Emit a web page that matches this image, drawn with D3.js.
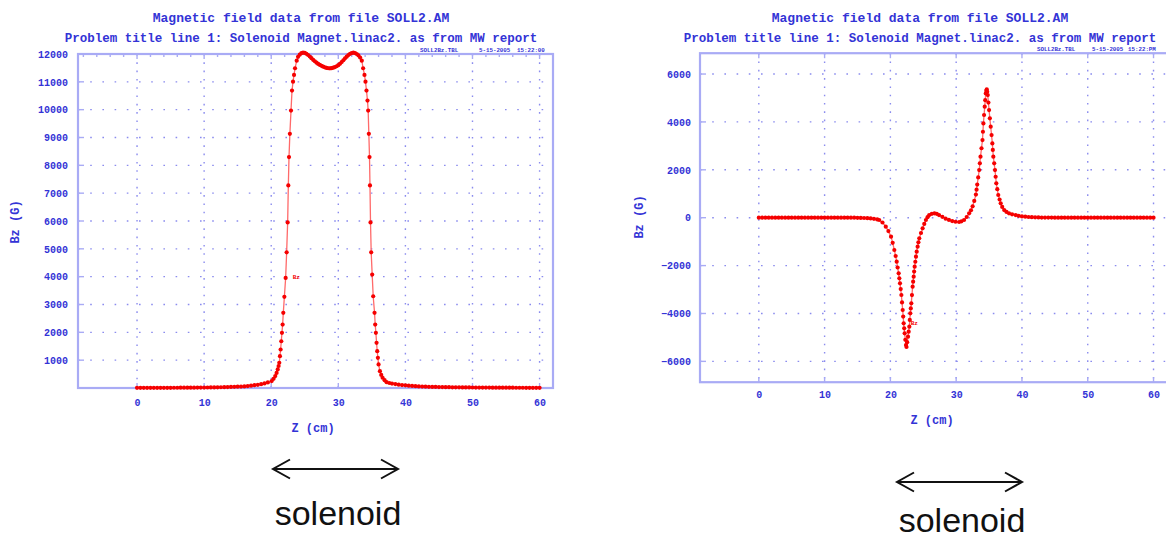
<!DOCTYPE html>
<html>
<head>
<meta charset="utf-8">
<script src="https://cdn.jsdelivr.net/npm/d3@7"></script>
<style>
  body { margin: 0; background: #fff; }
  svg text { font-family: "Liberation Mono", "DejaVu Sans Mono", monospace; font-weight: bold; }
  svg text.plain { font-family: "Liberation Sans", Arial, sans-serif; font-weight: normal; }
</style>
</head>
<body>
<div id="chart"></div>
<script>
// tick values
var xTicks = [0, 10, 20, 30, 40, 50, 60];
var leftYTicks = [1000, 2000, 3000, 4000, 5000, 6000, 7000, 8000, 9000, 10000, 11000, 12000];
var rightYTicks = [-6000, -4000, -2000, 0, 2000, 4000, 6000];

// texts
var titleLines = ['Magnetic field data from file SOLL2.AM',
                  'Problem title line 1: Solenoid Magnet.linac2. as from MW report'];
var leftStamp = ['SOLL2Bz.TBL', '5-15-2005', '15:22:00'];
var rightStamp = ['SOLL2Bz.TBL', '5-15-2005', '15:22:PM'];
var xLabel = 'Z  (cm)';
var yLabel = 'Bz  (G)';
var curveLabel = 'Bz';
var solenoidLabel = 'solenoid';

// [z (cm), Bz (G)]
var leftField = [
  [0,5],[0.5,5],[1,5],[1.5,6],[2,6],[2.5,6],[3,7],[3.5,7],[4,7],[4.5,8],
  [5,8],[5.5,9],[6,9],[6.5,10],[7,10],[7.5,11],[8,12],[8.5,13],[9,14],[9.5,15],
  [10,16],[10.5,18],[11,20],[11.5,22],[12,24],[12.5,27],[13,30],[13.5,33],[14,37],[14.5,41],
  [15,47],[15.5,52],[16,58],[16.5,70],[17,84],[17.5,100],[18,115],[18.5,138],[19,165],[19.5,200],
  [20.07,248],[20.35,330],[20.6,427],[20.8,540],[20.97,666],[21.1,790],[21.2,907],[21.3,1143],
  [21.4,1384],[21.5,1680],[21.6,1983],[21.7,2280],[21.8,2700],[21.96,3274],[22.15,3955],[22.3,4874],
  [22.45,5950],[22.55,7277],[22.65,8295],[22.78,9131],[22.95,9967],[23.1,10685],[23.25,11007],
  [23.4,11247],[23.55,11488],[23.8,11760],
  [24,11900],[24.25,11975],[24.5,12030],[24.75,12050],[25,12040],[25.25,12005],[25.5,11964],
  [25.75,11910],[26,11850],[26.25,11790],[26.5,11740],[26.75,11690],[27,11645],[27.25,11608],
  [27.5,11575],[27.75,11545],[28,11520],[28.25,11500],[28.5,11488],[28.75,11485],[29,11492],
  [29.25,11508],[29.5,11530],[29.75,11560],[30,11600],[30.25,11650],[30.5,11710],[30.75,11775],
  [31,11845],[31.25,11905],[31.5,11960],[31.75,12005],[32,12035],[32.25,12047],[32.5,12035],
  [32.75,12000],[33,11950],[33.25,11870],[33.5,11760],
  [33.7,11488],[33.9,11247],[34.05,11007],[34.2,10685],[34.35,10326],[34.45,9967],[34.55,9131],
  [34.65,8295],[34.72,7277],[34.8,5950],[34.9,4874],[35.05,4074],[35.2,3296],[35.4,2700],
  [35.5,2280],[35.6,1983],[35.7,1624],[35.8,1323],[35.9,1084],[36,846],[36.2,605],[36.4,470],
  [36.6,369],[36.9,280],[37.2,211],[37.6,180],[38,160],[38.5,140],[39,120],[39.5,105],
  [40,95],[40.5,85],[41,75],[41.5,66],
  [42,58],[42.5,52],[43,47],[43.5,43],[44,40],[44.5,37],[45,34],[45.5,32],[46,30],[46.5,28],
  [47,26],[47.5,24],[48,23],[48.5,21],[49,20],[49.5,19],[50,18],[50.5,17],[51,16],[51.5,15],
  [52,14],[52.5,14],[53,13],[53.5,12],[54,12],[54.5,11],[55,11],[55.5,10],[56,10],[56.5,9],
  [57,9],[57.5,9],[58,8],[58.5,8],[59,8],[59.5,7],[60,7]
];

// [z (cm), Bz (G)]
var rightField = [
  [0,0],[0.5,0],[1,0],[1.5,0],[2,0],[2.5,0],[3,0],[3.5,0],[4,0],[4.5,0],
  [5,0],[5.5,0],[6,0],[6.5,0],[7,0],[7.5,0],[8,0],[8.5,0],[9,0],[9.5,0],
  [10,0],[10.5,0],[11,0],[11.5,0],[12,0],[12.5,0],[13,0],[13.5,0],[14,0],[14.5,0],
  [15,-5],[15.5,-8],[16,-12],[16.5,-20],[17,-30],[17.5,-45],
  [18,-70],[18.3,-96],[18.8,-200],[19.3,-376],[19.7,-560],[20.1,-793],[20.35,-1050],[20.6,-1349],
  [20.8,-1600],[20.96,-1836],[21.1,-2080],[21.26,-2323],[21.36,-2530],[21.46,-2740],[21.57,-2980],
  [21.67,-3228],[21.77,-3540],[21.87,-3854],[21.95,-4130],[22.02,-4411],[22.1,-4620],[22.17,-4829],
  [22.27,-5100],[22.37,-5316],[22.45,-5400],[22.55,-5200],[22.68,-4968],[22.78,-4760],[22.88,-4551],
  [22.95,-4270],[23.03,-3994],[23.1,-3790],[23.18,-3577],[23.28,-3230],[23.38,-2881],[23.46,-2670],
  [23.54,-2463],[23.61,-2250],[23.69,-2046],[23.79,-1840],[23.89,-1628],[24,-1420],[24.14,-1211],
  [24.26,-1030],[24.39,-863],[24.65,-640],[24.9,-445],[25.15,-260],[25.4,-96],[25.65,20],
  [25.9,111],[26.3,160],[26.7,181],[27.05,160],[27.4,111],[27.9,35],[28.4,-42],[28.9,-95],
  [29.4,-139],[29.9,-170],[30.45,-180],[30.8,-150],[31.2,-96],[31.6,30],[31.97,181],[32.25,310],
  [32.5,477],[32.75,700],[33,964],[33.1,1170],[33.2,1382],[33.35,1680],[33.5,1990],[33.6,2270],
  [33.7,2547],[33.85,2900],[34,3243],[34.07,3590],[34.14,3939],[34.24,4290],[34.34,4635],
  [34.42,4910],[34.5,5192],[34.58,5300],[34.65,5360],[34.72,5260],[34.8,5122],[34.9,4810],
  [35,4496],[35.12,4150],[35.25,3800],[35.38,3450],[35.5,3104],[35.57,2830],[35.65,2547],
  [35.78,2270],[35.9,1990],[36,1710],[36.1,1434],[36.25,1190],[36.4,947],[36.6,760],[36.77,599],
  [37,450],[37.3,320],[37.65,240],[38.03,181],[38.5,140],[39.04,111],[39.5,80],[40,55],
  [40.5,41],[41,30],[41.5,22],[42,15],[42.5,10],[43,7],
  [43.5,5],[44,4],[44.5,4],[45,3],[45.5,3],[46,3],[46.5,2],[47,2],[47.5,2],[48,2],
  [48.5,1],[49,1],[49.5,1],[50,1],[50.5,1],[51,1],[51.5,0],[52,0],[52.5,0],[53,0],
  [53.5,0],[54,0],[54.5,0],[55,0],[55.5,0],[56,0],[56.5,0],[57,0],[57.5,0],[58,0],
  [58.5,0],[59,0],[59.5,0],[60,0]
];

var blue = '#3333d6';
var frameBlue = '#a9abf5';
var gridBlue = '#8b8cee';
var red = '#f50000';

var svg = d3.select('#chart').append('svg')
    .attr('width', 1166)
    .attr('height', 540);

function panel(o) {
  var g = svg.append('g');
  var x = d3.scaleLinear().domain(o.xDomain).range([o.left, o.right]);
  var y = d3.scaleLinear().domain(o.yDomain).range([o.bottom, o.top]);

  // dotted grid
  g.selectAll('line.vgrid').data(xTicks).enter().append('line')
      .attr('x1', function(d) { return x(d); })
      .attr('x2', function(d) { return x(d); })
      .attr('y1', o.top)
      .attr('y2', o.bottom)
      .attr('stroke', gridBlue)
      .attr('stroke-width', 1.4)
      .attr('stroke-dasharray', '1.6 6.7');
  g.selectAll('line.hgrid').data(o.yTicks).enter().append('line')
      .attr('x1', o.left)
      .attr('x2', o.right)
      .attr('y1', function(d) { return y(d); })
      .attr('y2', function(d) { return y(d); })
      .attr('stroke', gridBlue)
      .attr('stroke-width', 1.4)
      .attr('stroke-dasharray', '1.6 10.6');

  // frame
  g.append('rect')
      .attr('x', o.left).attr('y', o.top)
      .attr('width', o.right - o.left).attr('height', o.bottom - o.top)
      .attr('fill', 'none')
      .attr('stroke', frameBlue)
      .attr('stroke-width', 2.2);

  // edge ticks
  var minor = o.minorTop ? d3.range(-8, 62, 2) : xTicks;
  g.selectAll('line.ttick').data(minor).enter().append('line')
      .attr('x1', function(d) { return x(d); })
      .attr('x2', function(d) { return x(d); })
      .attr('y1', o.top)
      .attr('y2', function(d) { return o.top + (d % 10 === 0 ? 5 : 3); })
      .attr('stroke', frameBlue)
      .attr('stroke-width', 1.4);
  g.selectAll('line.btick').data(xTicks).enter().append('line')
      .attr('x1', function(d) { return x(d); })
      .attr('x2', function(d) { return x(d); })
      .attr('y1', o.bottom)
      .attr('y2', o.bottom - 5)
      .attr('stroke', frameBlue)
      .attr('stroke-width', 1.4);
  g.selectAll('line.ltick').data(o.yTicks).enter().append('line')
      .attr('x1', o.left)
      .attr('x2', o.left + 6)
      .attr('y1', function(d) { return y(d); })
      .attr('y2', function(d) { return y(d); })
      .attr('stroke', frameBlue)
      .attr('stroke-width', 1.4);

  // axes labels
  var xa = g.append('g')
      .attr('transform', 'translate(0,' + o.bottom + ')')
      .attr('font-size', 10.5)
      .call(d3.axisBottom(x).tickValues(xTicks).tickSize(0).tickPadding(o.xPad));
  xa.select('.domain').remove();
  xa.selectAll('text').attr('fill', blue);

  var ya = g.append('g')
      .attr('transform', 'translate(' + o.left + ',0)')
      .attr('font-size', 10.5)
      .call(d3.axisLeft(y).tickValues(o.yTicks).tickSize(0).tickPadding(o.yPad).tickFormat(d3.format('d')));
  ya.select('.domain').remove();
  ya.selectAll('text').attr('fill', blue);

  // titles
  g.append('text')
      .attr('x', o.titleX).attr('y', 22)
      .attr('text-anchor', 'middle')
      .attr('font-size', 13)
      .attr('fill', blue)
      .text(titleLines[0]);
  g.append('text')
      .attr('x', o.titleX).attr('y', 41.5)
      .attr('text-anchor', 'middle')
      .attr('font-size', 12.5)
      .attr('fill', blue)
      .text(titleLines[1]);
  g.selectAll('text.stamp').data(o.stamp).enter().append('text')
      .attr('x', function(d, i) { return o.stampX[i]; })
      .attr('y', o.top - 2.5)
      .attr('font-size', 5.8)
      .attr('fill', blue)
      .text(function(d) { return d; });

  // axis titles
  g.append('text')
      .attr('x', o.xLabelX).attr('y', o.xLabelY)
      .attr('text-anchor', 'middle')
      .attr('font-size', 12)
      .attr('fill', blue)
      .text(xLabel);
  g.append('text')
      .attr('transform', 'translate(' + o.yLabelX + ',' + o.yLabelY + ') rotate(-90)')
      .attr('text-anchor', 'middle')
      .attr('font-size', 12)
      .attr('fill', blue)
      .text(yLabel);

  // curve
  var line = d3.line()
      .x(function(d) { return x(d[0]); })
      .y(function(d) { return y(d[1]); });
  g.append('path')
      .datum(o.data)
      .attr('d', line)
      .attr('fill', 'none')
      .attr('stroke', '#ff6a6a')
      .attr('stroke-width', 1.3);
  g.selectAll('circle').data(o.data).enter().append('circle')
      .attr('cx', function(d) { return x(d[0]); })
      .attr('cy', function(d) { return y(d[1]); })
      .attr('r', 2.1)
      .attr('fill', red);

  g.append('text')
      .attr('x', x(o.labelAt[0])).attr('y', y(o.labelAt[1]))
      .attr('font-size', 6)
      .attr('fill', red)
      .text(curveLabel);

  // solenoid extent
  var ax1 = o.arrow[0], ax2 = o.arrow[1], ay = o.arrow[2];
  svg.append('path')
      .attr('d', ['M', ax1 + 17, ay - 9.5, 'L', ax1, ay, 'L', ax1 + 17, ay + 9.5,
                  'M', ax1, ay, 'L', ax2, ay,
                  'M', ax2 - 17, ay - 9.5, 'L', ax2, ay, 'L', ax2 - 17, ay + 9.5].join(' '))
      .attr('fill', 'none')
      .attr('stroke', '#111')
      .attr('stroke-width', 2);
  svg.append('text')
      .attr('class', 'plain')
      .attr('x', o.solX).attr('y', o.solY)
      .attr('text-anchor', 'middle')
      .attr('font-size', 34)
      .attr('fill', '#111')
      .text(solenoidLabel);
}

panel({
  left: 78, right: 553, top: 54, bottom: 388,
  xDomain: [-8.8, 62], yDomain: [0, 12000],
  yTicks: leftYTicks, data: leftField, minorTop: true,
  xPad: 10.5, yPad: 10,
  titleX: 301, stamp: leftStamp, stampX: [420, 479, 517],
  xLabelX: 313, xLabelY: 432, yLabelX: 19, yLabelY: 222,
  labelAt: [23.2, 3900],
  arrow: [273, 398, 469], solX: 338, solY: 525
});

panel({
  left: 700, right: 1168, top: 53.2, bottom: 382.2,
  xDomain: [-8.94, 62.2], yDomain: [-6870, 6870],
  yTicks: rightYTicks, data: rightField, minorTop: false,
  xPad: 8.5, yPad: 9,
  titleX: 920, stamp: rightStamp, stampX: [1037, 1092, 1128],
  xLabelX: 932, xLabelY: 424, yLabelX: 643, yLabelY: 217,
  labelAt: [23.1, -4500],
  arrow: [897, 1022, 482], solX: 962, solY: 532
});
</script>
</body>
</html>
